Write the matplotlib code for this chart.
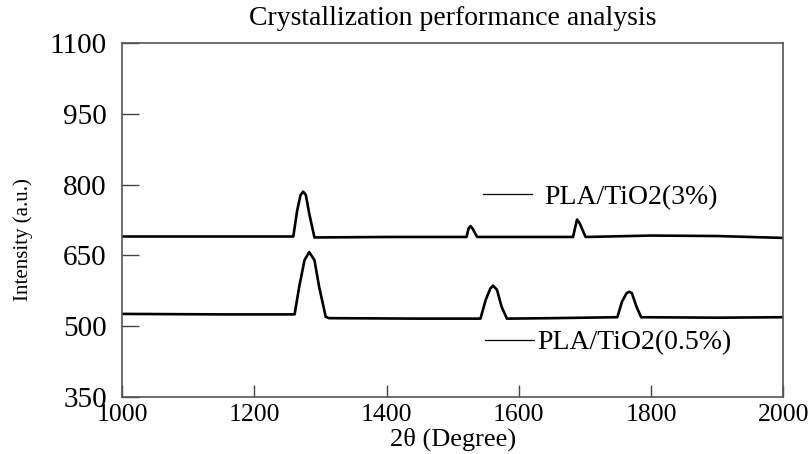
import matplotlib
matplotlib.use('Agg')
import matplotlib.pyplot as plt
from matplotlib.lines import Line2D

plt.rcParams['font.family'] = ['Liberation Serif', 'DejaVu Serif']

# PLA/TiO2(3%) 曲线
two_theta_3 = [1000, 1150, 1259, 1265, 1270, 1274, 1278, 1283, 1291, 1400,
               1521, 1524, 1527, 1530, 1537, 1600, 1682, 1686, 1688, 1692,
               1701, 1800, 1900, 2000]
intensity_3 = [690, 690, 690, 746, 778, 785, 778, 739, 688, 689,
               689, 707, 712, 707, 689, 689, 689, 714, 726, 718,
               689, 692, 691, 687]

# PLA/TiO2(0.5%) 曲线
two_theta_05 = [1000, 1150, 1261, 1268, 1276, 1283, 1291, 1298, 1308, 1313,
                1450, 1542, 1550, 1557, 1561, 1567, 1574, 1582, 1650, 1749,
                1756, 1763, 1767, 1771, 1778, 1785, 1900, 2000]
intensity_05 = [526, 525, 525, 584, 640, 657, 640, 584, 520, 517,
                516, 516, 556, 580, 586, 577, 541, 516, 517, 519,
                552, 570, 573, 570, 541, 519, 518, 519]

labels = ['PLA/TiO2(3%)', 'PLA/TiO2(0.5%)']
x_ticks = [1000, 1200, 1400, 1600, 1800, 2000]
y_ticks = [350, 500, 650, 800, 950, 1100]

fig = plt.figure(figsize=(8.09, 4.54), dpi=100)
ax = fig.add_axes([0.1508, 0.1256, 0.8175, 0.7797])

ax.plot(two_theta_3, intensity_3, color='black', lw=1.9)
ax.plot(two_theta_05, intensity_05, color='black', lw=1.9)

ax.set_xlim(1000, 2000)
ax.set_ylim(350, 1100)
ax.set_xticks(x_ticks)
ax.set_yticks(y_ticks)
ax.tick_params(axis='x', direction='in', length=9, width=1, color='#444444', pad=5, labelsize=18.5)
ax.tick_params(axis='y', direction='in', length=12, width=1, color='#444444', pad=11, labelsize=21)
for sp in ax.spines.values():
    sp.set_color('#555555')
    sp.set_linewidth(1.2)

ax.set_title('Crystallization performance analysis', fontsize=20, pad=13)
ax.set_xlabel('2θ (Degree)', fontsize=19, labelpad=1)
ax.set_ylabel('Intensity (a.u.)', fontsize=15)
ax.yaxis.set_label_coords(-0.135, 0.446)

# 两个标注分别放
h1 = Line2D([], [], color='black', lw=0.9)
h2 = Line2D([], [], color='black', lw=0.9)
leg1 = ax.legend([h1], [labels[0]], loc='center left', bbox_to_anchor=(0.546, 0.565),
                 frameon=False, borderpad=0, borderaxespad=0, handlelength=1.75,
                 handletextpad=0.45, fontsize=20)
ax.add_artist(leg1)
ax.legend([h2], [labels[1]], loc='center left', bbox_to_anchor=(0.549, 0.153),
          frameon=False, borderpad=0, borderaxespad=0, handlelength=1.75,
          handletextpad=0.12, fontsize=20)

fig.savefig('out.png', dpi=100)
